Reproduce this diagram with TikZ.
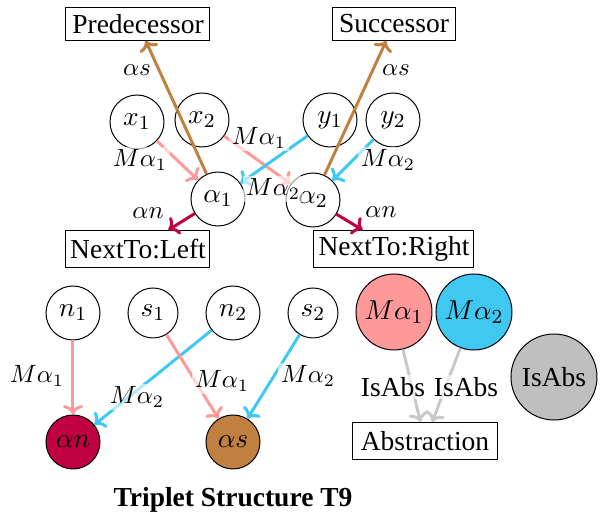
\documentclass[tikz,border=0pt]{standalone}
\usepackage{fontspec}
\setmainfont{Liberation Serif}
\usetikzlibrary{arrows.meta}
\definecolor{cpink}{HTML}{FF9999}
\definecolor{cblue}{HTML}{3FC8F2}
\definecolor{ccrim}{HTML}{BF0041}
\definecolor{cbrown}{HTML}{C0803F}
\definecolor{cgray}{HTML}{BFBFBF}
\definecolor{carrgray}{HTML}{C8C8C8}
\begin{document}
\begin{tikzpicture}[x=0.4pt,y=-0.4pt,
 font=\fontsize{11}{13}\selectfont,
 circ/.style={circle,draw=black,line width=0.4pt,inner sep=0pt,minimum size=21.6pt},
 smallcirc/.style={circ,minimum size=20pt},
 bigcirc/.style={circ,minimum size=30.4pt},
 box/.style={draw=black,line width=0.4pt,inner sep=0pt,minimum height=13pt},
 arr/.style={line width=1.2pt,-{To[length=3.8pt,width=8pt]}},
 lbl/.style={fill=white,fill opacity=0.6,text opacity=1,inner sep=1pt,font=\fontsize{10}{12}\selectfont},
]
\useasboundingbox (0,0) rectangle (603,519);
% top boxes
\node[box,minimum width=57.6pt] (pred) at (138,24) {Predecessor};
\node[box,minimum width=49.2pt] (succ) at (394,24) {Successor};
\node[box,minimum width=57.6pt,minimum height=14.8pt] (ntl) at (138,249) {NextTo:Left};
\node[box,minimum width=64pt,minimum height=14.8pt] (ntr) at (394,249) {NextTo:Right};
% top circles
\node[circ] (x1) at (137,122) {$x_1$};
\node[circ] (x2) at (202,120) {$x_2$};
\node[circ] (y1) at (330,120) {$y_1$};
\node[circ] (y2) at (393,120) {$y_2$};
\node[circ] (a1) at (218,199) {$\alpha_1$};
\node[circ] (a2) at (313,200) {$\alpha_2$};
% top edges
\draw[arr,cbrown] (a1) -- (pred);
\draw[arr,cbrown] (a2) -- (succ);
\draw[arr,cpink] (x1) -- (a1);
\draw[arr,cpink] (x2) -- (a2);
\draw[arr,cblue] (y1) -- (a1);
\draw[arr,cblue] (y2) -- (a2);
\draw[arr,ccrim] (a1) -- (ntl);
\draw[arr,ccrim] (a2) -- (ntr);
% top labels
\node[lbl] (l1) at (137,70) {$\alpha s$};
\node[lbl] (l2) at (396,70) {$\alpha s$};
\node[lbl] (l3) at (140,160) {$M\alpha_1$};
\node[lbl] (l4) at (259,138) {$M\alpha_1$};
\node[lbl] (l5) at (273,189) {$M\alpha_2$};
\node[lbl] (l6) at (388,160) {$M\alpha_2$};
\node[lbl] (l7) at (148,213) {$\alpha n$};
\node[lbl] (l8) at (381,212) {$\alpha n$};
% bottom circles
\node[circ] (n1) at (73,313) {$n_1$};
\node[smallcirc] (s1) at (153,313) {$s_1$};
\node[circ] (n2) at (233,313) {$n_2$};
\node[smallcirc] (s2) at (313,313) {$s_2$};
\node[circ,fill=ccrim] (an) at (73,442) {$\alpha n$};
\node[circ,fill=cbrown] (as) at (233,442) {$\alpha s$};
\node[bigcirc,fill=cpink] (ma1) at (394,312) {$M\alpha_1$};
\node[bigcirc,fill=cblue] (ma2) at (474,312) {$M\alpha_2$};
\node[circ,fill=cgray,minimum size=34.4pt] (isabs) at (554,377) {IsAbs};
\node[box,minimum width=58pt,minimum height=14.8pt] (abst) at (425,441) {Abstraction};
% bottom edges
\draw[arr,cpink] (n1) -- (an);
\draw[arr,cblue] (n2) -- (an);
\draw[arr,cpink] (s1) -- (as);
\draw[arr,cblue] (s2) -- (as);
\draw[arr,carrgray] (ma1) -- (abst);
\draw[arr,carrgray] (ma2) -- (abst);
% bottom labels
\node[lbl] (b1) at (37,376) {$M\alpha_1$};
\node[lbl] (b2) at (137,397) {$M\alpha_2$};
\node[lbl] (b3) at (222,381) {$M\alpha_1$};
\node[lbl] (b4) at (308,376) {$M\alpha_2$};
\node[lbl,font=\fontsize{11}{13}\selectfont] (b5) at (393,387) {IsAbs};
\node[lbl,font=\fontsize{11}{13}\selectfont] (b6) at (466,387) {IsAbs};
% title
\node[font=\fontsize{11}{13}\selectfont\bfseries] (title) at (233,500) {Triplet Structure T9};
\end{tikzpicture}
\end{document}
